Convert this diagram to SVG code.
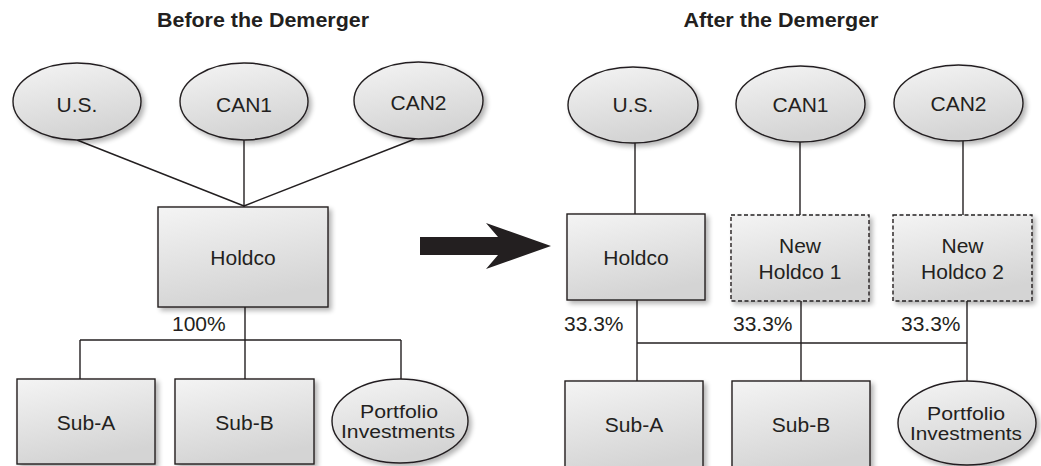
<svg xmlns="http://www.w3.org/2000/svg" width="1041" height="466" viewBox="0 0 1041 466">
<style>
text{font-family:"Liberation Sans",Arial,sans-serif;font-size:21px;fill:#231f20;text-anchor:middle}
.title{font-weight:bold}
.pct{text-anchor:start}
.pf{font-size:17.5px}
.node{fill:url(#g);stroke:#231f20;stroke-width:1.4;filter:url(#sh)}
.dash{stroke-dasharray:4 2.5}
#connectors line{stroke:#231f20;stroke-width:1.4}
</style>
<defs>
<linearGradient id="g" x1="0" y1="0" x2="0.3" y2="1">
<stop offset="0" stop-color="#f4f4f4"/>
<stop offset="1" stop-color="#d4d4d4"/>
</linearGradient>
<filter id="sh" x="-10%" y="-10%" width="130%" height="130%">
<feGaussianBlur in="SourceAlpha" stdDeviation="2.5"/>
<feOffset dx="3" dy="3" result="b"/>
<feComponentTransfer><feFuncA type="linear" slope="0.3"/></feComponentTransfer>
<feMerge><feMergeNode/><feMergeNode in="SourceGraphic"/></feMerge>
</filter>
</defs>
<rect width="1041" height="466" fill="#ffffff"/>
<text class="title" x="263" y="27" textLength="212" lengthAdjust="spacingAndGlyphs">Before the Demerger</text>
<text class="title" x="781" y="27" textLength="195" lengthAdjust="spacingAndGlyphs">After the Demerger</text>
<polygon id="arrow" points="420,237 498,237 486,223 551,246 486,269 498,255 420,255" fill="#231f20"/>
<g id="connectors">
<line x1="77" y1="140" x2="244" y2="206"/>
<line x1="244" y1="140" x2="244" y2="207"/>
<line x1="415" y1="139" x2="244" y2="206"/>
<line x1="245" y1="307" x2="245" y2="379"/>
<line x1="80" y1="340" x2="401" y2="340"/>
<line x1="80" y1="340" x2="80" y2="379"/>
<line x1="401" y1="340" x2="401" y2="379"/>
<line x1="635" y1="143" x2="635" y2="214"/>
<line x1="800" y1="142" x2="800" y2="215"/>
<line x1="963" y1="141" x2="963" y2="215"/>
<line x1="637" y1="300" x2="637" y2="381"/>
<line x1="801" y1="301" x2="801" y2="381"/>
<line x1="967" y1="301" x2="967" y2="381"/>
<line x1="637" y1="343" x2="967" y2="343"/>
</g>
<g id="before-us"><ellipse class="node" cx="77" cy="101.5" rx="64" ry="38.5"/><text x="77" y="112">U.S.</text></g>
<g id="before-can1"><ellipse class="node" cx="244" cy="101.5" rx="64" ry="38.5"/><text x="244" y="112">CAN1</text></g>
<g id="before-can2"><ellipse class="node" cx="418.5" cy="100.5" rx="64.5" ry="38.5"/><text x="418.5" y="110">CAN2</text></g>
<g id="before-holdco"><rect class="node" x="158" y="207" width="170" height="100"/><text x="243" y="265">Holdco</text></g>
<text class="pct" x="172" y="331">100%</text>
<g id="before-suba"><rect class="node" x="17" y="379" width="138" height="85"/><text x="86" y="430">Sub-A</text></g>
<g id="before-subb"><rect class="node" x="175" y="379" width="139" height="85"/><text x="244.5" y="430">Sub-B</text></g>
<g id="before-portfolio"><ellipse class="node" cx="400" cy="421" rx="68" ry="42"/><text class="pf" x="399" y="418" textLength="78" lengthAdjust="spacingAndGlyphs">Portfolio</text><text class="pf" x="398" y="438" textLength="114" lengthAdjust="spacingAndGlyphs">Investments</text></g>
<g id="after-us"><ellipse class="node" cx="633" cy="105" rx="65" ry="38"/><text x="633" y="112">U.S.</text></g>
<g id="after-can1"><ellipse class="node" cx="800.5" cy="104" rx="64.5" ry="38"/><text x="800.5" y="112">CAN1</text></g>
<g id="after-can2"><ellipse class="node" cx="958.5" cy="103" rx="64.5" ry="38"/><text x="958.5" y="111">CAN2</text></g>
<g id="after-holdco"><rect class="node" x="567" y="214" width="138" height="86"/><text x="636" y="265">Holdco</text></g>
<g id="after-newholdco1"><rect class="node dash" x="731" y="215" width="138" height="86"/><text x="800" y="253">New</text><text x="800" y="279">Holdco 1</text></g>
<g id="after-newholdco2"><rect class="node dash" x="893" y="215" width="139" height="86"/><text x="962.5" y="253">New</text><text x="962.5" y="279">Holdco 2</text></g>
<text class="pct" x="564" y="331">33.3%</text>
<text class="pct" x="733" y="331">33.3%</text>
<text class="pct" x="901" y="331">33.3%</text>
<g id="after-suba"><rect class="node" x="565" y="381" width="138" height="92"/><text x="634" y="432">Sub-A</text></g>
<g id="after-subb"><rect class="node" x="732" y="381" width="138" height="92"/><text x="801" y="432">Sub-B</text></g>
<g id="after-portfolio"><ellipse class="node" cx="967" cy="423" rx="69" ry="42"/><text class="pf" x="966" y="420" textLength="78" lengthAdjust="spacingAndGlyphs">Portfolio</text><text class="pf" x="966" y="440" textLength="112" lengthAdjust="spacingAndGlyphs">Investments</text></g>
</svg>
